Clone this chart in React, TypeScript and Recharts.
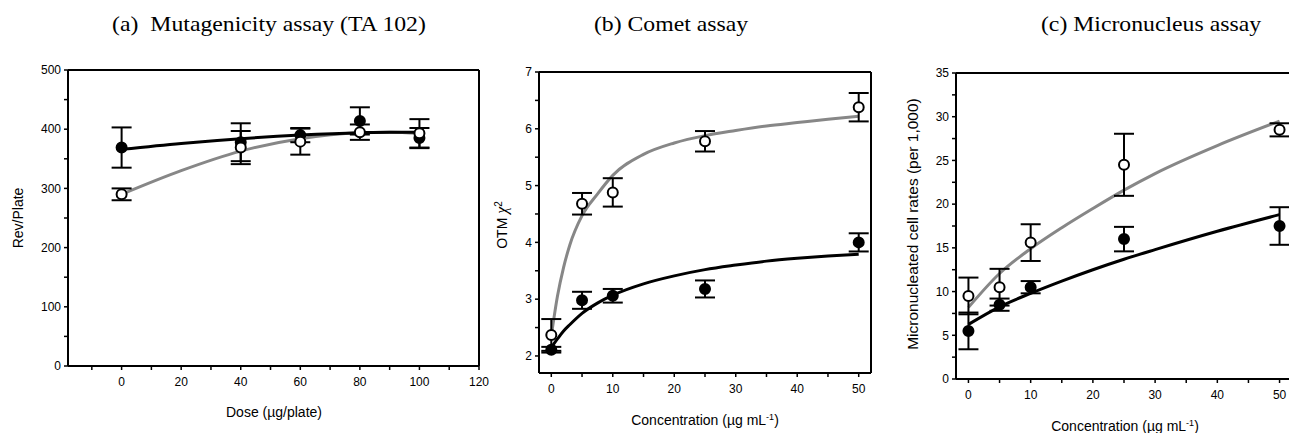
import React from "react";
import {
  ComposedChart,
  Line,
  Scatter,
  ErrorBar,
  XAxis,
  YAxis,
  ReferenceLine,
} from "recharts";

// ── data ─────────────────────────────────────────────────────────────────────

// (a) Mutagenicity assay (TA 102)
const aDose = [0, 40, 60, 80, 100];
const aFilled = [369, 378, 390, 414, 385];
const aFilledErr = [34, 32, 12, 23, 17];
const aOpen = [290, 369, 379, 395, 393];
const aOpenErr = [10, 28, 22, 13, 24];
const aFitX = [0, 20, 40, 60, 80, 90, 100];
const aFitFilled = [366, 376, 384, 390, 394, 395, 395];
const aFitOpen = [290, 330, 363, 384, 394, 395, 393];

// (b) Comet assay
const bConc = [0, 5, 10, 25, 50];
const bFilled = [2.11, 2.98, 3.06, 3.18, 4.0];
const bFilledErr = [0.05, 0.15, 0.12, 0.15, 0.16];
const bOpen = [2.37, 4.68, 4.88, 5.78, 6.38];
const bOpenErr = [0.28, 0.19, 0.25, 0.18, 0.25];
const bFitX = [0, 1, 2, 3, 5, 7.5, 10, 15, 20, 25, 30, 35, 40, 45, 50];
const bFitFilled = [2.15, 2.3, 2.44, 2.55, 2.75, 2.93, 3.07, 3.27, 3.41, 3.52, 3.6, 3.67, 3.72, 3.76, 3.79];
const bFitOpen = [2.35, 3.05, 3.56, 3.95, 4.47, 4.85, 5.18, 5.55, 5.75, 5.88, 5.97, 6.05, 6.11, 6.17, 6.22];

// (c) Micronucleus assay
const cConc = [0, 5, 10, 25, 50];
const cFilled = [5.5, 8.5, 10.5, 16.0, 17.5];
const cFilledErr = [2.1, 0.7, 0.7, 1.4, 2.15];
const cOpen = [9.5, 10.5, 15.6, 24.5, 28.5];
const cOpenErr = [2.1, 2.1, 2.1, 3.55, 0.75];
const cFitX = [0, 5, 10, 15, 20, 25, 30, 40, 50];
const cFitFilled = [6.25, 8.26, 9.8, 11.2, 12.5, 13.7, 14.8, 16.9, 18.8];
const cFitOpen = [8.19, 12.07, 14.9, 17.3, 19.5, 21.6, 23.5, 26.7, 29.5];

// ── helpers ──────────────────────────────────────────────────────────────────

const SANS = "'Liberation Sans', Arial, sans-serif";
const SERIF = "'Liberation Serif', 'Times New Roman', serif";
const GRAY = "#878787";

const pts = (xs: number[], ys: number[], errs?: number[]) =>
  xs.map((x, i) => ({ x, y: ys[i], err: errs ? errs[i] : 0 }));

const range = (from: number, to: number, step: number) => {
  const out: number[] = [];
  for (let v = from; v <= to + 1e-9; v += step) out.push(+v.toFixed(4));
  return out;
};

const XTick = (majors: number[]) => (p: any) => {
  if (!majors.includes(p.payload.value)) return null;
  return (
    <text x={p.x} y={p.y} dy="0.71em" textAnchor="middle" fontSize={12} fontFamily={SANS} fill="#000">
      {p.payload.value}
    </text>
  );
};

const YTick = (majors: number[]) => (p: any) => {
  if (!majors.includes(p.payload.value)) return null;
  return (
    <text x={p.x} y={p.y} dy="0.355em" textAnchor="end" fontSize={12} fontFamily={SANS} fill="#000">
      {p.payload.value}
    </text>
  );
};

const Dot = (filled: boolean) => (p: any) => {
  if (p.cx == null || p.cy == null) return null;
  return (
    <circle cx={p.cx} cy={p.cy} r={5} fill={filled ? "#000" : "#fff"} stroke="#000" strokeWidth={2} />
  );
};

interface PanelProps {
  left: number;
  width: number;
  margin: { top: number; right: number; bottom: number; left: number };
  yWidth: number;
  xDomain: [number, number];
  yDomain: [number, number];
  xTicks: number[];
  xMajors: number[];
  yTicks: number[];
  yMajors: number[];
  filled: { x: number; y: number; err: number }[];
  open: { x: number; y: number; err: number }[];
  fitFilled: { x: number; y: number }[];
  fitOpen: { x: number; y: number }[];
}

const Panel = (props: PanelProps) => {
  const { xDomain, yDomain } = props;
  return (
    <div style={{ position: "absolute", left: props.left, top: 0 }}>
      <ComposedChart width={props.width} height={433} margin={props.margin}>
        <XAxis
          dataKey="x"
          type="number"
          domain={xDomain}
          allowDataOverflow
          ticks={props.xTicks}
          interval={0}
          tick={XTick(props.xMajors)}
          tickSize={4}
          tickMargin={7}
          height={30}
          axisLine={{ stroke: "#000", strokeWidth: 2 }}
          tickLine={{ stroke: "#000", strokeWidth: 1.5 }}
        />
        <YAxis
          dataKey="y"
          type="number"
          domain={yDomain}
          allowDataOverflow
          ticks={props.yTicks}
          interval={0}
          tick={YTick(props.yMajors)}
          tickSize={4}
          tickMargin={3}
          width={props.yWidth}
          axisLine={{ stroke: "#000", strokeWidth: 2 }}
          tickLine={{ stroke: "#000", strokeWidth: 1.5 }}
        />
        <ReferenceLine y={yDomain[1]} stroke="#000" strokeWidth={2} ifOverflow="visible" />
        <ReferenceLine x={xDomain[1]} stroke="#000" strokeWidth={2} ifOverflow="visible" />
        <Line
          data={props.fitOpen}
          dataKey="y"
          type="monotone"
          stroke={GRAY}
          strokeWidth={3}
          dot={false}
          activeDot={false}
          isAnimationActive={false}
        />
        <Line
          data={props.fitFilled}
          dataKey="y"
          type="monotone"
          stroke="#000"
          strokeWidth={3}
          dot={false}
          activeDot={false}
          isAnimationActive={false}
        />
        <Scatter data={props.filled} dataKey="y" shape={Dot(true)} isAnimationActive={false}>
          <ErrorBar dataKey="err" direction="y" width={10} stroke="#000" strokeWidth={2} isAnimationActive={false} />
        </Scatter>
        <Scatter data={props.open} dataKey="y" shape={Dot(false)} isAnimationActive={false}>
          <ErrorBar dataKey="err" direction="y" width={10} stroke="#000" strokeWidth={2} isAnimationActive={false} />
        </Scatter>
      </ComposedChart>
    </div>
  );
};

const textBox = (x: number, y: number, extra: React.CSSProperties = {}): React.CSSProperties => ({
  position: "absolute",
  left: x,
  top: y,
  transform: "translate(-50%, -50%)",
  whiteSpace: "nowrap",
  fontFamily: SANS,
  fontSize: 14,
  color: "#000",
  ...extra,
});

const vertical = (x: number, y: number, size = 14): React.CSSProperties =>
  textBox(x, y, { transform: "translate(-50%, -50%) rotate(-90deg)", fontSize: size });

const title: React.CSSProperties = {
  fontFamily: SERIF,
  fontSize: 21,
  transform: "translate(-50%, -50%) scaleX(1.13)",
};

export default function App() {
  return (
    <div
      style={{
        position: "fixed",
        left: 0,
        top: 0,
        width: 1289,
        height: 433,
        overflow: "hidden",
        background: "#fff",
      }}
    >
      <Panel
        left={0}
        width={490}
        margin={{ top: 70, right: 11, bottom: 37, left: 18 }}
        yWidth={50}
        xDomain={[-18, 120]}
        yDomain={[0, 500]}
        xTicks={range(-10, 120, 10)}
        xMajors={range(0, 120, 20)}
        yTicks={range(0, 500, 50)}
        yMajors={range(0, 500, 100)}
        filled={pts(aDose, aFilled, aFilledErr)}
        open={pts(aDose, aOpen, aOpenErr)}
        fitFilled={pts(aFitX, aFitFilled)}
        fitOpen={pts(aFitX, aFitOpen)}
      />
      <Panel
        left={440}
        width={440}
        margin={{ top: 72, right: 9, bottom: 30, left: 59 }}
        yWidth={40}
        xDomain={[-2, 52]}
        yDomain={[1.7, 7]}
        xTicks={range(0, 50, 5)}
        xMajors={range(0, 50, 10)}
        yTicks={range(2, 7, 0.5)}
        yMajors={range(2, 7, 1)}
        filled={pts(bConc, bFilled, bFilledErr)}
        open={pts(bConc, bOpen, bOpenErr)}
        fitFilled={pts(bFitX, bFitFilled)}
        fitOpen={pts(bFitX, bFitOpen)}
      />
      <Panel
        left={880}
        width={422}
        margin={{ top: 73, right: 10, bottom: 24, left: 36 }}
        yWidth={40}
        xDomain={[-2, 52]}
        yDomain={[0, 35]}
        xTicks={range(0, 50, 5)}
        xMajors={range(0, 50, 10)}
        yTicks={range(0, 35, 2.5)}
        yMajors={range(0, 35, 5)}
        filled={pts(cConc, cFilled, cFilledErr)}
        open={pts(cConc, cOpen, cOpenErr)}
        fitFilled={pts(cFitX, cFitFilled)}
        fitOpen={pts(cFitX, cFitOpen)}
      />

      <div style={textBox(269, 24, title)}>(a)&nbsp; Mutagenicity assay (TA 102)</div>
      <div style={textBox(671, 24, title)}>(b) Comet assay</div>
      <div style={textBox(1151, 24, title)}>(c) Micronucleus assay</div>

      <div style={textBox(274, 412)}>Dose (µg/plate)</div>
      <div style={vertical(18, 218)}>Rev/Plate</div>

      <div style={textBox(705, 420)}>
        Concentration (µg mL<sup style={{ fontSize: 9 }}>-1</sup>)
      </div>
      <div style={vertical(502, 225)}>
        OTM <span style={{ fontFamily: SERIF, fontStyle: "italic", fontSize: 16 }}>χ</span>
        <sup style={{ fontSize: 10 }}>2</sup>
      </div>

      <div style={textBox(1125, 426)}>
        Concentration (µg mL<sup style={{ fontSize: 9 }}>-1</sup>)
      </div>
      <div style={vertical(913, 224, 15.5)}>Micronucleated cell rates (per 1,000)</div>
    </div>
  );
}
